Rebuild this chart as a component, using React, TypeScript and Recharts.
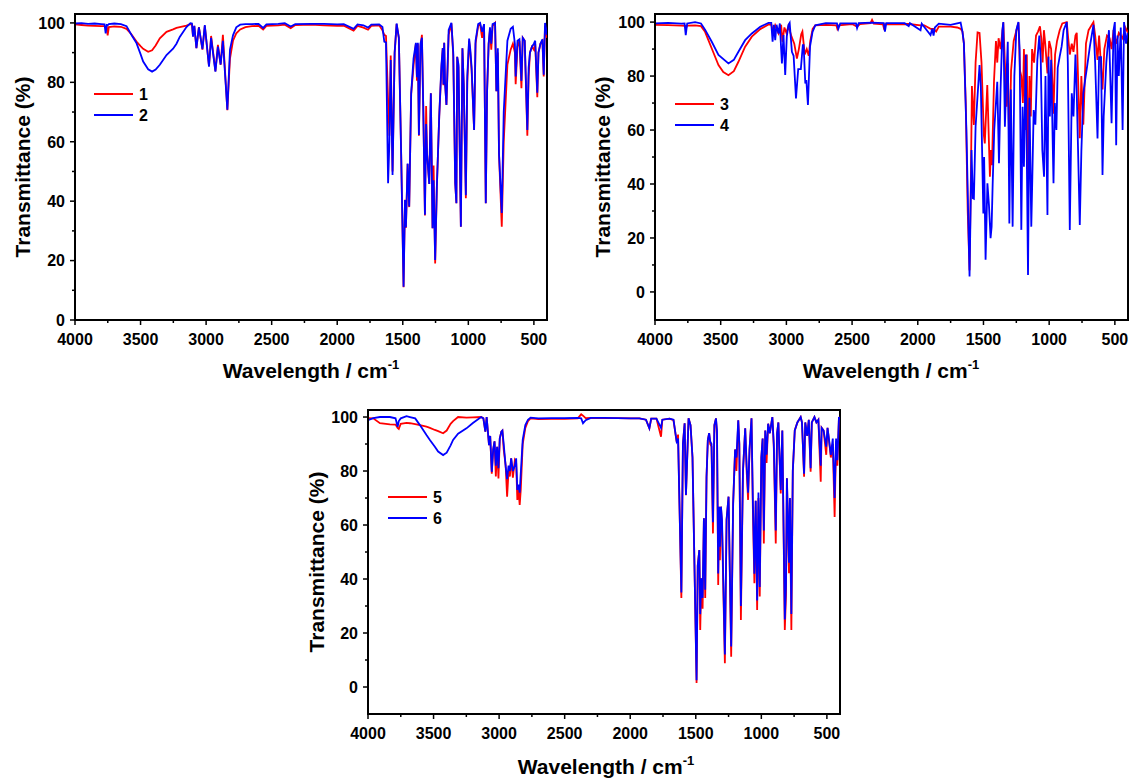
import React from 'react';
import { LineChart, Line, XAxis, YAxis, ReferenceArea, Legend } from 'recharts';

const FONT = '"Liberation Sans", Arial, Helvetica, sans-serif';

// ---------- Panel 1 (samples 1 and 2) ----------
const wn12 = [
  4000,3950,3900,3850,3800,3775,3766,3758,3751,3742,
  3700,3650,3607,3570,3531,3500,3480,3442,3412,3385,
  3353,3302,3252,3226,3201,3150,3120,3108,3100,3090,
  3074,3055,3028,3010,2978,2962,2929,2910,2889,2872,
  2838,2818,2795,2770,2740,2700,2650,2600,2565,2540,
  2450,2400,2355,2320,2200,2100,2000,1950,1875,1845,
  1800,1765,1740,1680,1655,1641,1628,1612,1602,1592,
  1578,1562,1547,1530,1512,1494,1483,1476,1463,1451,
  1436,1418,1400,1392,1385,1377,1365,1354,1344,1331,
  1322,1315,1298,1286,1273,1265,1253,1240,1222,1205,
  1195,1190,1184,1178,1167,1150,1129,1115,1100,1091,
  1085,1075,1057,1045,1035,1019,1008,994,985,975,
  956,945,925,910,895,880,867,857,845,835,
  825,815,796,786,775,766,745,730,702,677,
  660,645,639,625,610,595,585,570,550,540,
  530,515,500,490,474,465,450,435,425,415,
  400,
];
const t1 = [
  99.5,99.3,99.1,99.0,98.9,98.9,98.6,98.8,95.8,98.6,
  98.8,98.7,98.0,96.2,93.7,92.2,91.3,90.3,90.8,92.4,
  94.8,97.0,97.8,98.3,98.6,99.1,99.6,99.5,95.5,99.0,
  91.5,98.6,91.0,99.0,85.5,95.6,83.8,92.6,85.9,96.0,
  70.6,88.0,94.0,96.5,97.8,98.6,98.9,99.0,97.8,99.0,
  99.2,99.4,98.2,99.3,99.4,99.2,99.0,99.1,97.4,99.0,
  98.4,97.7,99.0,99.2,97.5,96.0,95.6,74.0,62.0,89.0,
  50.0,90.0,99.6,95.0,55.0,11.0,40.5,31.0,52.5,38.0,
  76.0,85.5,93.0,80.5,93.0,62.0,92.0,96.0,72.0,35.2,
  72.0,56.0,45.8,76.3,30.9,52.0,19.0,45.0,68.5,85.0,
  91.5,79.0,93.3,80.0,72.4,96.0,99.8,89.0,46.0,39.3,
  88.6,85.0,31.4,91.5,79.3,41.0,80.0,94.0,90.0,84.0,
  64.0,93.0,99.0,99.5,95.0,99.5,39.3,77.0,93.0,97.5,
  91.0,99.0,100,77.0,90.0,56.0,31.4,60.0,86.0,91.0,
  93.0,90.0,79.4,92.0,94.0,78.0,95.0,94.0,62.0,82.0,
  90.0,92.0,91.0,93.0,75.0,90.0,93.0,94.0,82.0,99.0,
  95.0,
];
const t2 = [
  99.8,99.9,99.7,99.8,99.6,99.5,96.5,99.3,99.2,99.6,
  99.8,99.6,98.9,96.0,93.2,89.5,87.0,84.4,83.6,84.3,
  85.9,89.2,91.3,93.0,95.3,98.6,99.9,99.8,95.4,99.0,
  91.5,98.5,91.2,99.3,85.3,95.0,83.6,92.0,86.0,94.0,
  70.8,91.0,95.8,98.5,99.4,99.6,99.6,99.7,98.3,99.5,
  99.7,99.9,98.8,99.6,99.7,99.7,99.5,99.6,98.0,99.5,
  99.2,98.4,99.4,99.5,98.6,93.7,93.4,46.0,60.0,87.5,
  48.8,90.0,99.8,95.0,55.0,11.2,40.4,31.2,52.7,38.2,
  76.3,88.0,93.3,81.7,93.3,62.3,93.0,95.0,72.0,35.4,
  66.0,56.0,45.8,76.3,30.9,47.0,20.2,45.0,68.5,86.0,
  91.5,79.3,93.3,80.0,72.4,97.6,100,90.0,46.0,39.3,
  88.6,86.0,31.4,91.5,79.3,42.0,82.0,94.7,91.0,85.0,
  64.0,94.0,99.6,100,97.0,99.6,39.3,77.0,93.0,98.5,
  93.0,99.6,100,77.0,91.5,56.0,36.0,70.0,94.0,98.0,
  98.7,93.0,82.0,94.0,94.5,80.5,95.0,94.0,64.0,85.0,
  90.0,92.0,93.0,94.0,76.5,90.0,93.0,94.5,82.6,100,
  96.0,
];

// ---------- Panel 2 (samples 3 and 4) ----------
const wn3 = [
  4000,3900,3800,3770,3764,3755,3695,3650,3619,3568,
  3517,3480,3441,3400,3365,3314,3263,3199,3136,3115,
  3100,3085,3060,3040,3030,3015,3000,2985,2960,2940,
  2920,2905,2887,2878,2860,2845,2830,2818,2800,2780,
  2700,2620,2612,2600,2500,2462,2440,2360,2348,2335,
  2265,2259,2250,2069,1979,1950,1903,1880,1860,1840,
  1800,1750,1700,1674,1660,1649,1635,1620,1606,1595,
  1588,1573,1560,1545,1530,1515,1497,1490,1471,1451,
  1443,1435,1420,1405,1395,1385,1370,1349,1337,1325,
  1315,1303,1290,1270,1234,1222,1212,1200,1192,1180,
  1170,1161,1150,1140,1130,1115,1100,1085,1070,1060,
  1050,1040,1030,1013,1000,985,967,955,940,920,
  900,866,855,843,828,815,800,790,767,755,
  740,720,700,663,650,632,620,594,580,560,
  540,525,510,490,470,441,420,400,
];
const t3 = [
  99.0,98.9,98.7,98.6,97.8,98.7,98.8,98.5,96.4,90.2,
  84.1,81.5,80.3,81.8,85.3,90.9,94.6,97.4,99.1,99.2,
  96.0,98.8,95.8,99.0,92.7,98.0,96.0,98.5,94.5,92.0,
  86.5,90.0,95.5,96.5,88.0,90.0,87.5,93.0,97.5,98.8,
  99.0,98.8,97.5,98.8,99.3,98.3,99.3,99.6,100.8,99.4,
  99.2,98.0,99.2,99.3,98.8,98.8,97.5,97.5,96.5,98.3,
  98.3,98.3,98.0,97.5,96.5,92.0,70.0,30.0,8.0,45.0,
  76.3,61.9,85.0,96.2,96.0,85.0,58.1,55.0,76.7,42.7,
  52.6,47.0,78.0,93.0,85.0,94.0,90.0,99.8,85.0,68.6,
  84.7,50.1,82.0,93.0,99.8,82.0,80.0,70.0,90.0,60.0,
  88.0,40.0,80.0,65.0,90.0,85.0,95.0,96.5,98.4,94.0,
  85.0,97.0,92.0,81.0,93.0,90.0,66.0,88.0,93.0,97.0,
  99.5,100,94.0,88.0,92.0,89.0,95.0,96.0,57.0,80.0,
  62.0,92.0,97.0,100,95.0,86.0,95.0,75.0,90.0,95.0,
  94.0,90.0,97.0,92.0,96.0,94.0,98.0,96.0,
];
const wn4 = [
  4000,3900,3800,3775,3766,3755,3695,3650,3619,3568,
  3517,3441,3400,3365,3314,3263,3199,3136,3115,3105,
  3095,3085,3075,3060,3050,3034,3022,3009,2997,2984,
  2975,2958,2945,2927,2910,2890,2875,2869,2856,2848,
  2836,2820,2801,2780,2700,2615,2605,2590,2470,2462,
  2450,2350,2259,2250,2240,2100,2069,2060,1979,1970,
  1903,1890,1880,1870,1840,1750,1674,1660,1649,1630,
  1606,1591,1581,1573,1560,1530,1520,1501,1495,1484,
  1470,1458,1446,1438,1430,1418,1395,1382,1370,1356,
  1349,1337,1325,1315,1303,1292,1278,1265,1250,1234,
  1225,1212,1202,1192,1178,1161,1150,1136,1128,1118,
  1105,1090,1075,1064,1052,1039,1028,1013,1005,995,
  985,967,957,945,935,920,905,890,866,858,
  843,828,815,800,790,767,755,740,725,710,
  690,663,650,632,620,605,594,585,565,545,
  525,510,500,490,480,470,455,441,430,415,
  403,400,
];
const t4 = [
  99.5,99.7,99.4,99.5,95.2,99.5,100,99.5,97.2,92.7,
  87.8,84.7,86.0,89.0,93.3,95.8,98.3,99.7,99.7,92.7,
  99.0,93.3,99.0,95.8,99.5,84.7,95.2,80.4,94.6,99.0,
  99.7,89.0,87.5,71.7,82.6,82.6,91.5,91.5,77.3,78.5,
  69.3,91.0,96.4,98.8,99.6,99.5,97.5,99.5,99.5,97.8,
  99.6,99.8,99.6,96.5,99.6,99.6,98.5,99.6,97.0,99.4,
  95.2,97.5,95.0,98.0,99.4,99.0,99.8,96.5,92.1,60.0,
  5.7,52.6,34.7,34.5,61.2,84.1,76.0,29.1,50.0,11.9,
  40.3,32.0,19.9,24.2,40.0,60.0,77.9,47.7,75.0,97.0,
  100,61.2,80.0,92.7,25.4,75.0,24.2,80.0,97.0,100,
  90.0,23.0,68.6,46.4,88.0,6.3,72.0,24.2,42.7,67.4,
  62.0,86.0,95.0,86.0,52.6,42.7,80.0,28.5,87.2,65.0,
  86.0,40.3,70.0,60.0,83.0,87.2,91.0,97.0,100,85.0,
  23.0,73.6,65.0,88.0,73.6,24.8,52.0,73.6,79.0,84.0,
  91.0,99.0,85.0,56.9,87.0,87.0,43.3,65.0,85.0,97.0,
  62.5,97.0,100,54.4,95.0,80.0,98.0,60.0,100,92.0,
  96.0,95.0,
];

// ---------- Panel 3 (samples 5 and 6) ----------
const wn56 = [
  4000,3960,3909,3833,3790,3774,3765,3750,3706,3680,
  3640,3604,3554,3528,3490,3465,3427,3400,3370,3351,
  3313,3249,3200,3137,3120,3105,3095,3077,3068,3056,
  3045,3035,3025,3015,3005,2995,2983,2975,2965,2950,
  2939,2928,2918,2908,2895,2880,2870,2861,2852,2843,
  2835,2820,2800,2780,2760,2700,2600,2500,2400,2374,
  2360,2340,2300,2200,2100,2000,1930,1880,1854,1840,
  1800,1765,1755,1700,1670,1646,1635,1610,1598,1585,
  1575,1555,1540,1525,1510,1494,1485,1473,1466,1458,
  1448,1438,1428,1418,1408,1398,1390,1380,1369,1358,
  1346,1338,1329,1322,1316,1308,1300,1278,1265,1250,
  1230,1215,1200,1190,1176,1168,1156,1140,1123,1112,
  1101,1090,1075,1065,1053,1043,1032,1022,1012,1000,
  990,981,970,960,948,935,916,905,890,880,
  870,852,840,821,812,805,789,782,771,760,
  745,725,700,690,674,665,650,638,624,615,
  595,580,565,547,540,525,505,495,485,470,
  455,441,430,420,408,400,
];
const t5 = [
  99.6,99.5,97.7,97.3,97.2,96.0,95.6,97.5,97.8,97.7,
  97.4,97.0,96.4,96.0,95.2,94.8,94.0,95.0,97.5,98.5,
  100,99.8,99.9,100,99.5,94.6,100,89.6,93.0,79.0,
  88.0,91.0,78.0,89.0,77.2,92.0,94.6,95.0,88.0,82.0,
  70.5,80.0,78.0,84.7,77.5,84.0,83.0,69.3,73.0,67.4,
  73.0,90.0,96.0,98.5,99.5,99.2,99.3,99.3,99.5,101.0,
  100.5,99.6,99.7,99.6,99.6,99.5,99.5,99.0,95.8,99.4,
  99.4,92.7,99.0,99.4,98.8,90.9,93.5,33.0,90.0,97.7,
  71.0,99.5,97.0,85.0,45.0,1.5,45.0,50.7,21.1,40.3,
  29.0,62.5,33.0,77.9,91.5,94.0,90.0,89.0,56.9,97.0,
  99.5,93.0,37.8,66.8,47.0,66.8,60.0,8.8,62.0,70.5,
  11.2,68.0,88.0,80.0,98.8,90.0,24.8,80.0,95.8,80.0,
  69.3,88.0,99.5,67.0,38.4,69.0,28.5,70.0,33.5,85.0,
  92.0,53.2,95.0,83.0,97.5,94.0,100,89.0,53.2,94.0,
  98.0,71.7,95.0,21.1,34.0,77.3,42.1,70.0,21.1,80.0,
  95.0,98.0,100,98.0,77.9,98.0,93.0,99.0,79.7,98.0,
  100,98.0,99.0,76.0,96.0,95.0,86.0,96.0,92.0,85.0,
  90.0,63.0,91.0,82.0,100,99.0,
];
const t6 = [
  98.8,99.6,100,100,99.5,96.4,98.5,99.5,100.3,100,
  99.5,97.0,93.3,91.5,89.0,87.2,85.9,86.8,89.5,91.5,
  93.8,95.8,97.8,100,99.5,94.6,100,89.6,93.0,79.7,
  88.0,91.0,82.0,89.0,81.0,92.0,94.6,95.0,90.0,81.6,
  77.0,82.0,80.0,84.7,80.0,82.0,84.7,73.0,75.0,72.0,
  79.0,91.5,97.0,99.0,99.8,99.5,99.6,99.6,99.7,99.5,
  97.7,98.8,99.7,99.7,99.6,99.5,99.5,99.0,95.8,99.4,
  99.4,96.0,99.0,99.4,99.0,90.9,92.0,35.0,90.0,97.7,
  71.1,99.5,97.0,85.0,45.0,2.5,45.0,50.7,27.0,40.3,
  33.0,62.5,36.0,77.9,91.5,94.0,91.0,90.0,61.0,97.0,
  99.5,95.0,42.0,66.8,52.0,66.8,62.0,12.0,62.0,70.5,
  15.0,68.0,88.0,85.0,98.8,90.0,30.0,80.0,95.8,82.0,
  72.0,88.0,99.5,70.0,42.0,69.0,32.0,72.0,37.0,85.0,
  92.0,58.0,95.0,86.0,97.5,94.0,100,90.0,58.0,94.0,
  98.0,73.0,95.0,25.0,38.0,77.3,46.0,70.0,27.0,80.0,
  95.0,98.0,100,98.0,79.0,98.0,93.0,99.0,81.0,98.0,
  100,98.0,99.0,82.0,96.0,95.0,89.0,96.0,92.0,86.0,
  92.0,70.0,92.0,84.0,100,99.0,
];

// ---------- Axis ticks ----------
const xTicks = [4000, 3750, 3500, 3250, 3000, 2750, 2500, 2250, 2000, 1750, 1500, 1250, 1000, 750, 500];
const xMajor = [4000, 3500, 3000, 2500, 2000, 1500, 1000, 500];
const yTicks = [0, 10, 20, 30, 40, 50, 60, 70, 80, 90, 100];
const yMajor = [0, 20, 40, 60, 80, 100];

const RED = '#ff0000';
const BLUE = '#0000ff';

const toData = (w: number[], t: number[]) => w.map((v, i) => ({ w: v, t: t[i] }));

type Series = { name: string; color: string; data: { w: number; t: number }[] };

function Panel(props: {
  px: number; py: number; pw: number; ph: number;
  yDomain: [number, number];
  series: Series[];
  lx: number; ly: number;
}) {
  const { px, py, pw, ph, yDomain, series, lx, ly } = props;
  const ML = 60, MT = 10, MR = 12, MB = 40;
  const W = pw + ML + MR;
  const H = ph + MT + MB;
  const axisY = MT + ph;
  const axisX = ML;

  const xTick = (p: any) => {
    const v = p.payload.value;
    const major = xMajor.includes(v);
    return (
      <g>
        <line x1={p.x} x2={p.x} y1={axisY} y2={axisY + (major ? 5 : 3)} stroke="#000" strokeWidth={1.5} />
        {major && (
          <text x={p.x} y={axisY + 13} dy="0.72em" textAnchor="middle" fontFamily={FONT} fontWeight="bold" fontSize={16} fill="#000">
            {v}
          </text>
        )}
      </g>
    );
  };
  const yTick = (p: any) => {
    const v = p.payload.value;
    const major = yMajor.includes(v);
    return (
      <g>
        <line x1={axisX} x2={axisX - (major ? 5 : 3)} y1={p.y} y2={p.y} stroke="#000" strokeWidth={1.5} />
        {major && (
          <text x={axisX - 10} y={p.y} dy="0.36em" textAnchor="end" fontFamily={FONT} fontWeight="bold" fontSize={16} fill="#000">
            {v}
          </text>
        )}
      </g>
    );
  };
  const legendContent = () => (
    <svg width={70} height={46} style={{ display: 'block', overflow: 'visible' }}>
      {series.map((s, i) => (
        <g key={s.name}>
          <line x1={0} x2={39} y1={10 + i * 21} y2={10 + i * 21} stroke={s.color} strokeWidth={1.8} />
          <text x={45} y={10 + i * 21} dy="0.36em" fontFamily={FONT} fontWeight="bold" fontSize={16} fill="#000">
            {s.name}
          </text>
        </g>
      ))}
    </svg>
  );

  return (
    <div style={{ position: 'absolute', left: px - ML, top: py - MT, width: W, height: H }}>
      <LineChart width={W} height={H} margin={{ top: MT, right: MR, bottom: 0, left: 0 }}>
        <XAxis
          type="number"
          dataKey="w"
          domain={[400, 4000]}
          reversed
          allowDataOverflow
          ticks={xTicks}
          interval={0}
          height={MB}
          tickLine={false}
          tick={xTick}
          axisLine={{ stroke: '#000', strokeWidth: 2 }}
        />
        <YAxis
          type="number"
          domain={yDomain}
          allowDataOverflow
          ticks={yTicks}
          interval={0}
          width={ML}
          tickLine={false}
          tick={yTick}
          axisLine={{ stroke: '#000', strokeWidth: 2 }}
        />
        <ReferenceArea x1={400} x2={4000} y1={yDomain[0]} y2={yDomain[1]} fill="none" fillOpacity={0} stroke="#000" strokeWidth={2} />
        {series.map((s) => (
          <Line
            key={s.name}
            data={s.data}
            dataKey="t"
            name={s.name}
            type="linear"
            stroke={s.color}
            strokeWidth={1.8}
            dot={false}
            activeDot={false}
            isAnimationActive={false}
          />
        ))}
        <Legend
          layout="vertical"
          align="center"
          verticalAlign="middle"
          content={legendContent}
          wrapperStyle={{ position: 'absolute', left: lx - (px - ML), top: ly - (py - MT), width: 70, height: 46 }}
        />
      </LineChart>
    </div>
  );
}

function YTitle({ cx, cy }: { cx: number; cy: number }) {
  return (
    <text x={cx} y={cy} transform={`rotate(-90, ${cx}, ${cy})`} textAnchor="middle" dy="0.36em" fontFamily={FONT} fontWeight="bold" fontSize={21} fill="#000">
      Transmittance (%)
    </text>
  );
}
function XTitle({ cx, by }: { cx: number; by: number }) {
  return (
    <text x={cx} y={by} textAnchor="middle" fontFamily={FONT} fontWeight="bold" fontSize={21} fill="#000">
      Wavelength / cm<tspan dy={-9} fontSize={13}>-1</tspan>
    </text>
  );
}

export default function App() {
  const s1: Series[] = [
    { name: '1', color: RED, data: toData(wn12, t1) },
    { name: '2', color: BLUE, data: toData(wn12, t2) },
  ];
  const s2: Series[] = [
    { name: '3', color: RED, data: toData(wn3, t3) },
    { name: '4', color: BLUE, data: toData(wn4, t4) },
  ];
  const s3: Series[] = [
    { name: '5', color: RED, data: toData(wn56, t5) },
    { name: '6', color: BLUE, data: toData(wn56, t6) },
  ];
  return (
    <div style={{ position: 'absolute', left: 0, top: 0, width: 1131, height: 781, background: '#fff', overflow: 'hidden' }}>
      <Panel px={75} py={14} pw={472} ph={306} yDomain={[0, 103]} series={s1} lx={94} ly={84} />
      <Panel px={655} py={14} pw={473} ph={306} yDomain={[-10.4, 103]} series={s2} lx={675} ly={94} />
      <Panel px={368} py={410} pw={472} ph={304} yDomain={[-10, 102.6]} series={s3} lx={388} ly={487} />
      <svg width={1131} height={781} style={{ position: 'absolute', left: 0, top: 0, pointerEvents: 'none' }}>
        <YTitle cx={22} cy={167} />
        <XTitle cx={311} by={378} />
        <YTitle cx={602} cy={167} />
        <XTitle cx={891} by={378} />
        <YTitle cx={316} cy={562} />
        <XTitle cx={606} by={774} />
      </svg>
    </div>
  );
}
